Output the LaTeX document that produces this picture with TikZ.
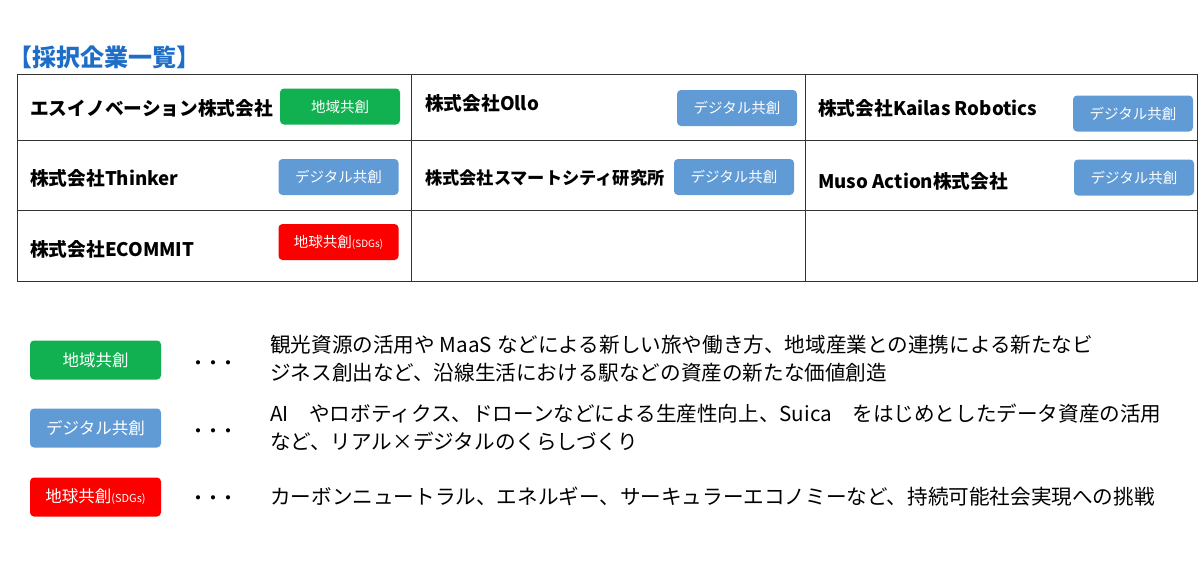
\documentclass[tikz,border=0pt]{standalone}
\usepackage{fontspec}
\setmainfont{Noto Sans CJK JP}
\definecolor{tgreen}{RGB}{17,176,80}
\definecolor{tblue}{RGB}{97,155,214}
\definecolor{tred}{RGB}{252,0,0}
\definecolor{ttitle}{RGB}{30,110,200}
\begin{document}
\begin{tikzpicture}[x=1pt,y=-1pt,
  tag/.style={rounded corners=4pt,text=white,font=\fontsize{14.5}{14.5}\selectfont,minimum width=120pt,minimum height=36pt,inner sep=0pt},
  ltag/.style={tag,minimum width=131pt,minimum height=39pt,font=\fontsize{16.5}{16.5}\selectfont},
  cname/.style={anchor=west,font=\bfseries\fontsize{18.7}{18.7}\selectfont,inner sep=0pt},
  ltext/.style={anchor=west,font=\fontsize{20.6}{28}\selectfont,inner sep=0pt,align=left},
  dots/.style={font=\bfseries\fontsize{15}{15}\selectfont,inner sep=0pt}]
\useasboundingbox (0,0) rectangle (1200,563);
\node[anchor=west,text=ttitle,font=\bfseries\fontsize{24}{24}\selectfont,inner sep=0pt] (title) at (8,57) {【採択企業一覧】};
\draw[line width=1pt,black!80] (17,74) rectangle (1197,281);
\draw[line width=1pt,black!80] (17,140) -- (1197,140) (17,210) -- (1197,210) (411,74) -- (411,281) (805,74) -- (805,281);
\node[cname] (n1) at (30,108) {エスイノベーション株式会社};
\node[cname] (n2) at (425,103) {株式会社Ollo};
\node[cname] (n3) at (818,108) {株式会社Kailas Robotics};
\node[cname] (n4) at (30,178) {株式会社Thinker};
\node[cname,font=\bfseries\fontsize{17.2}{17.2}\selectfont] (n5) at (425,178) {株式会社スマートシティ研究所};
\node[cname] (n6) at (818,181) {Muso Action株式会社};
\node[cname] (n7) at (30,249) {株式会社ECOMMIT};
\node[tag,fill=tgreen] (t1) at (340,106.5) {地域共創};
\node[tag,fill=tblue] (t2) at (737,108) {デジタル共創};
\node[tag,fill=tblue] (t3) at (1133,113.5) {デジタル共創};
\node[tag,fill=tblue] (t4) at (338.5,177) {デジタル共創};
\node[tag,fill=tblue] (t5) at (734,177) {デジタル共創};
\node[tag,fill=tblue] (t6) at (1134,177.5) {デジタル共創};
\node[tag,fill=tred] (t7) at (338.5,242) {地球共創{\fontsize{10}{10}\selectfont(SDGs)}};
\node[ltag,fill=tgreen] (l1) at (95.5,360) {地域共創};
\node[ltag,fill=tblue] (l2) at (95.5,428) {デジタル共創};
\node[ltag,fill=tred] (l3) at (95.5,497) {地球共創{\fontsize{11}{11}\selectfont(SDGs)}};
\node[dots] (d1) at (213,365) {・・・};
\node[dots] (d2) at (213,433) {・・・};
\node[dots] (d3) at (213,500) {・・・};
\node[ltext] (x1) at (270,359) {観光資源の活用や\hspace{5pt}MaaS\hspace{5pt}などによる新しい旅や働き方、地域産業との連携による新たなビ\\ジネス創出など、沿線生活における駅などの資産の新たな価値創造};
\node[ltext] (x2) at (270,427) {AI　やロボティクス、ドローンなどによる生産性向上、Suica　をはじめとしたデータ資産の活用\\など、リアル×デジタルのくらしづくり};
\node[ltext] (x3) at (270,497) {カーボンニュートラル、エネルギー、サーキュラーエコノミーなど、持続可能社会実現への挑戦};
\end{tikzpicture}
\end{document}
